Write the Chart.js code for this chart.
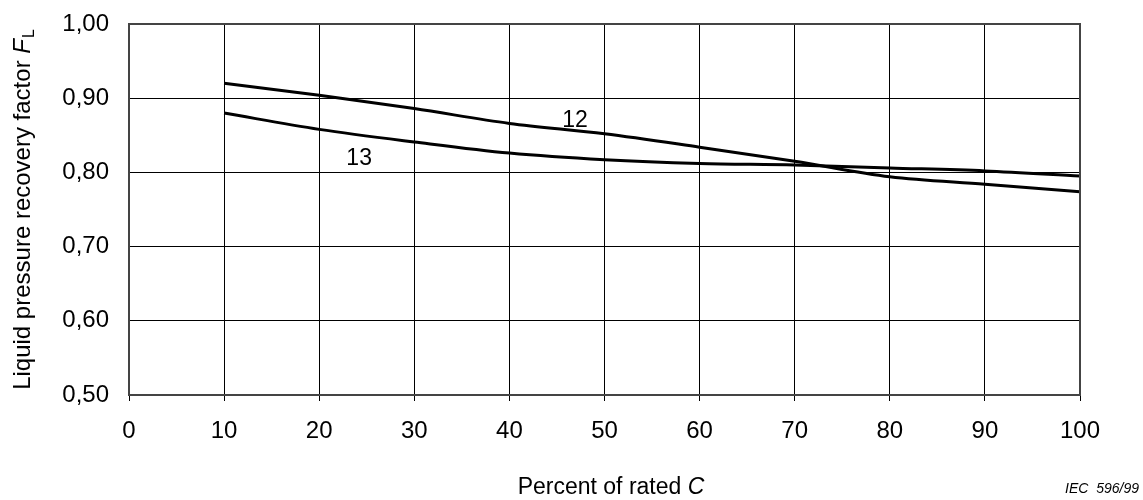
<!DOCTYPE html>
<html>
<head>
<meta charset="utf-8">
<script src="https://cdn.jsdelivr.net/npm/chart.js@4"></script>
<style>
  html, body { margin: 0; padding: 0; background: #fff; }
  #wrap { width: 1143px; height: 500px; }
</style>
</head>
<body>
<div id="wrap"><canvas id="chart" width="1143" height="500"></canvas></div>
<script>
// --- data ---
const percentRated = [10, 20, 30, 40, 50, 60, 70, 80, 90, 100];
const curve12 = [0.920, 0.904, 0.886, 0.866, 0.852, 0.834, 0.815, 0.794, 0.784, 0.774];
const curve13 = [0.880, 0.858, 0.841, 0.826, 0.817, 0.812, 0.810, 0.806, 0.802, 0.795];
const curveLabels = [
    { text: '12', x: 46.9, y: 0.870 },
    { text: '13', x: 24.2, y: 0.818 }
];

const FONT = '"Liberation Sans", Arial, sans-serif';

const toPoints = (ys) => percentRated.map((x, i) => ({ x, y: ys[i] }));

// draws border, curve numbers and the axis titles with italic symbols
const decorPlugin = {
    id: 'decor',
    afterDatasetsDraw(chart) {
        const { ctx, chartArea: a, scales } = chart;
        ctx.save();

        // plot frame
        ctx.strokeStyle = '#444';
        ctx.lineWidth = 2;
        ctx.strokeRect(a.left, a.top, a.right - a.left, a.bottom - a.top);

        // curve numbers
        ctx.fillStyle = '#000';
        ctx.font = '23px ' + FONT;
        ctx.textAlign = 'center';
        ctx.textBaseline = 'middle';
        curveLabels.forEach(l => {
            ctx.fillText(l.text, scales.x.getPixelForValue(l.x), scales.y.getPixelForValue(l.y));
        });

        // x title: Percent of rated C
        ctx.textBaseline = 'alphabetic';
        ctx.textAlign = 'left';
        const xPart1 = 'Percent of rated ';
        ctx.font = '23px ' + FONT;
        const w1 = ctx.measureText(xPart1).width;
        ctx.font = 'italic 23px ' + FONT;
        const w2 = ctx.measureText('C').width;
        let xs = 611 - (w1 + w2) / 2;
        ctx.font = '23px ' + FONT;
        ctx.fillText(xPart1, xs, 494);
        ctx.font = 'italic 23px ' + FONT;
        ctx.fillText('C', xs + w1, 494);

        // source tag
        ctx.font = 'italic 14px ' + FONT;
        ctx.textAlign = 'right';
        ctx.fillText('IEC  596/99', 1139, 493);

        // y title (rotated): Liquid pressure recovery factor F_L
        ctx.translate(30, 210);
        ctx.rotate(-Math.PI / 2);
        ctx.textAlign = 'left';
        const yPart1 = 'Liquid pressure recovery factor ';
        ctx.font = '24px ' + FONT;
        const t1 = ctx.measureText(yPart1).width;
        ctx.font = 'italic 24px ' + FONT;
        const t2 = ctx.measureText('F').width;
        ctx.font = '16px ' + FONT;
        const t3 = ctx.measureText('L').width;
        let ys = -(t1 + t2 + t3) / 2;
        ctx.font = '24px ' + FONT;
        ctx.fillText(yPart1, ys, 0);
        ctx.font = 'italic 24px ' + FONT;
        ctx.fillText('F', ys + t1, 0);
        ctx.font = '16px ' + FONT;
        ctx.fillText('L', ys + t1 + t2 + 1, 4);

        ctx.restore();
    }
};

new Chart(document.getElementById('chart').getContext('2d'), {
    type: 'line',
    data: {
        datasets: [
            { label: '12', data: toPoints(curve12) },
            { label: '13', data: toPoints(curve13) }
        ]
    },
    options: {
        responsive: false,
        animation: false,
        layout: { padding: { top: 24, right: 63, left: 0, bottom: 0 } },
        elements: {
            line: { borderColor: '#000', borderWidth: 3, cubicInterpolationMode: 'monotone', fill: false },
            point: { radius: 0 }
        },
        plugins: { legend: { display: false }, tooltip: { enabled: false } },
        scales: {
            x: {
                type: 'linear',
                min: 0, max: 100,
                ticks: { stepSize: 10, color: '#000', font: { size: 24, family: FONT }, padding: 16, maxRotation: 0 },
                grid: { color: '#000', lineWidth: 1, drawTicks: true, tickLength: 6 },
                border: { display: false },
                afterFit: (s) => { s.height = 105; }
            },
            y: {
                min: 0.5, max: 1.0,
                ticks: {
                    stepSize: 0.1, color: '#000', font: { size: 24, family: FONT }, padding: 20,
                    callback: (v) => v.toFixed(2).replace('.', ',')
                },
                grid: { color: '#000', lineWidth: 1, drawTicks: false },
                border: { display: false },
                afterFit: (s) => { s.width = 129; s.paddingTop = 0; s.paddingBottom = 0; }
            }
        }
    },
    plugins: [decorPlugin]
});
</script>
</body>
</html>
